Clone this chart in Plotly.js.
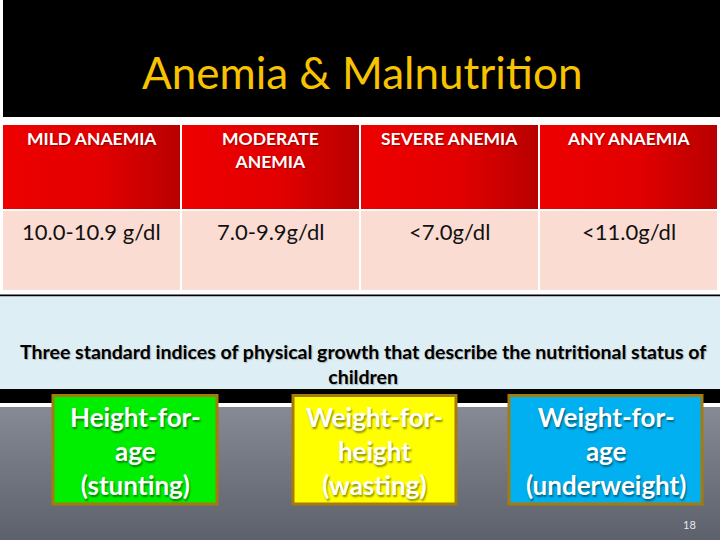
<!DOCTYPE html>
<html>
<head>
<meta charset="utf-8">
<script src="https://cdn.plot.ly/plotly-3.0.1.min.js"></script>
<style>html,body{margin:0;padding:0;background:#fff;}#chart{width:720px;height:540px;}</style>
</head>
<body>
<div id="chart"></div>
<script>
// ---- data ----
const slideTitle = 'Anemia & Malnutrition';
const anaemiaLevels = ['MILD ANAEMIA', 'MODERATE<br>ANEMIA', 'SEVERE ANEMIA', 'ANY ANAEMIA'];
const haemoglobinRanges = ['10.0-10.9 g/dl', '7.0-9.9g/dl', '&lt;7.0g/dl', '&lt;11.0g/dl'];
const growthCaption = 'Three standard indices of physical growth that describe the nutritional status of<br>children';
const growthIndices = ['Height-for-<br>age<br>(stunting)', 'Weight-for-<br>height<br>(wasting)', 'Weight-for-<br>age<br>(underweight)'];
const pageNumber = '18';

// ---- styles ----
const FONT = 'Lato, "Open Sans", sans-serif';
const boxFills = ['#00EE00', '#FFFF00', '#00B0F0'];
const boxSpans = [[53, 217], [293, 456], [509, 702]];
const tableX = [2, 718], headTop = 124, headH = 86, cellH = 81;
const headSize = 17.5, cellSize = 22;

const traces = [];

// grey gradient background
traces.push({
  type: 'scatter', mode: 'none', hoverinfo: 'skip',
  x: [0, 720, 720, 0, 0], y: [407, 407, 540, 540, 407],
  fill: 'toself',
  fillgradient: {type: 'vertical', start: 407, stop: 540,
    colorscale: [[0, '#858A95'], [0.5, '#70757F'], [1, '#5C616C']]}
});

// red gradient behind header cells
const nCols = anaemiaLevels.length;
const colW = (tableX[1] - tableX[0]) / nCols;
anaemiaLevels.forEach((_, i) => {
  const x0 = tableX[0] + i * colW, x1 = x0 + colW;
  traces.push({
    type: 'scatter', mode: 'none', hoverinfo: 'skip',
    x: [x0, x1, x1, x0, x0], y: [headTop, headTop, headTop + headH, headTop + headH, headTop],
    fill: 'toself',
    fillgradient: {type: 'horizontal', start: x0, stop: x1,
      colorscale: [[0, '#EE0000'], [0.55, '#E20000'], [1, '#B80000']]}
  });
});

// table grid (text placed as annotations below for exact vertical placement)
traces.push({
  type: 'table',
  domain: {x: [tableX[0] / 720, tableX[1] / 720], y: [0.3, 1 - headTop / 540]},
  header: {
    values: anaemiaLevels.map(() => ''),
    height: headH,
    fill: {color: 'rgba(0,0,0,0)'},
    line: {color: '#FFFFFF', width: 2}
  },
  cells: {
    values: haemoglobinRanges.map(() => ['']),
    height: cellH,
    fill: {color: '#FBDCD2'},
    line: {color: '#FFFFFF', width: 2}
  }
});

const shapes = [
  {type: 'rect', xref: 'x', yref: 'y', layer: 'below', x0: 3, x1: 720, y0: 0, y1: 117, fillcolor: '#000', line: {width: 0}},
  {type: 'rect', xref: 'x', yref: 'y', layer: 'below', x0: 0, x1: 720, y0: 294.5, y1: 296.5, fillcolor: '#000', line: {width: 0}},
  {type: 'rect', xref: 'x', yref: 'y', layer: 'below', x0: 0, x1: 720, y0: 296.5, y1: 389, fillcolor: '#DDEEF4', line: {width: 0}},
  {type: 'rect', xref: 'x', yref: 'y', layer: 'below', x0: 0, x1: 720, y0: 389, y1: 403, fillcolor: '#000', line: {width: 0}}
];

const annotations = [
  {text: slideTitle, x: 362, y: 72, xref: 'x', yref: 'y', showarrow: false,
   font: {family: FONT, size: 44, color: '#F7C300'}},
  {text: growthCaption, x: 363, y: 364, xref: 'x', yref: 'y', showarrow: false,
   font: {family: FONT, size: 19.5, color: '#000', weight: 'bold', shadow: '1px 1px 1px rgba(0,0,0,0.25)'}},
  {text: pageNumber, x: 689, y: 524, xref: 'x', yref: 'y', showarrow: false,
   font: {family: FONT, size: 11, color: '#E8E8E8'}}
];

// table texts
anaemiaLevels.forEach((label, i) => {
  const cx = tableX[0] + (i + 0.5) * colW;
  const nLines = label.split('<br>').length;
  annotations.push({text: label, x: cx, y: headTop + 14 + (nLines - 1) * 12, xref: 'x', yref: 'y',
    showarrow: false, align: 'center',
    font: {family: FONT, size: headSize, weight: 'bold', color: '#FFFFFF', shadow: '1px 1px 1px rgba(0,0,0,0.35)'}});
  annotations.push({text: haemoglobinRanges[i], x: cx, y: headTop + headH + 2 + 19, xref: 'x', yref: 'y',
    showarrow: false, align: 'center',
    font: {family: FONT, size: cellSize, color: '#111111'}});
});

growthIndices.forEach((label, i) => {
  const [x0, x1] = boxSpans[i];
  shapes.push({type: 'rect', xref: 'x', yref: 'y', layer: 'above', x0: x0, x1: x1, y0: 395.5, y1: 504,
    fillcolor: boxFills[i], line: {color: '#A57B0D', width: 3}});
  annotations.push({text: label, x: (x0 + x1) / 2, y: 451, xref: 'x', yref: 'y', showarrow: false,
    font: {family: FONT, size: 26, weight: 'bold', color: '#FFFFFF', shadow: '1px 2px 2px rgba(0,0,0,0.45)'}});
});

const layout = {
  width: 720, height: 540,
  margin: {l: 0, r: 0, t: 0, b: 0, pad: 0},
  paper_bgcolor: '#FFFFFF', plot_bgcolor: 'rgba(0,0,0,0)',
  showlegend: false,
  xaxis: {range: [0, 720], visible: false, fixedrange: true},
  yaxis: {range: [540, 0], visible: false, fixedrange: true},
  shapes: shapes,
  annotations: annotations
};

Plotly.newPlot('chart', traces, layout, {displayModeBar: false, staticPlot: true});
</script>
</body>
</html>
